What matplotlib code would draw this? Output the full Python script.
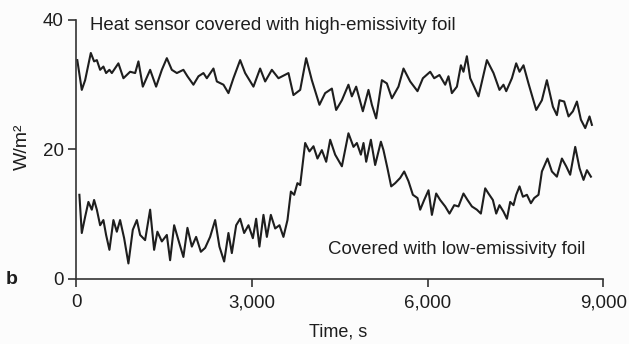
import matplotlib
matplotlib.use('Agg')
import matplotlib.pyplot as plt
import numpy as np

plt.rcParams['font.family'] = ['Liberation Sans', 'DejaVu Sans']

# Heat sensor covered with high-emissivity foil (time in s, flux in W/m^2)
t_high = [20, 97, 154, 251, 307, 354, 410, 466, 512, 569, 610, 722, 808, 922,
          1008, 1064, 1139, 1264, 1366, 1464, 1549, 1634, 1720, 1832, 1901,
          2003, 2089, 2174, 2232, 2345, 2403, 2516, 2601, 2686, 2801, 2886,
          3028, 3142, 3228, 3342, 3455, 3626, 3711, 3826, 3928, 4025, 4155,
          4252, 4367, 4440, 4538, 4650, 4708, 4782, 4896, 4992, 5050, 5123,
          5221, 5306, 5392, 5504, 5590, 5704, 5829, 5921, 6046, 6114, 6204,
          6302, 6358, 6416, 6502, 6570, 6614, 6672, 6729, 6871, 7014, 7127,
          7229, 7297, 7344, 7441, 7514, 7571, 7639, 7724, 7856, 7953, 8038,
          8141, 8209, 8254, 8334, 8408, 8483, 8551, 8619, 8693, 8766, 8807]
q_high = [33.8, 29.2, 30.7, 34.9, 33.6, 33.8, 32.3, 32.8, 31.8, 32.3, 31.8,
          33.3, 31.0, 32.0, 31.8, 33.6, 29.7, 32.3, 29.7, 32.3, 34.1, 32.3,
          31.8, 32.3, 31.3, 30.0, 31.3, 31.8, 31.0, 32.5, 30.5, 30.0, 28.7,
          31.0, 33.8, 31.8, 29.7, 32.5, 30.5, 32.3, 31.0, 31.8, 28.4, 29.2,
          34.1, 30.7, 26.9, 28.7, 29.4, 26.1, 27.6, 30.0, 28.2, 29.7, 25.9,
          29.2, 26.9, 24.8, 30.7, 30.2, 27.9, 29.7, 32.5, 30.5, 29.0, 31.0,
          32.0, 31.0, 31.5, 30.0, 31.3, 28.7, 29.7, 33.0, 32.0, 34.4, 31.0,
          28.2, 33.8, 31.8, 29.2, 30.0, 29.0, 31.0, 33.3, 32.0, 33.0, 30.2,
          26.1, 27.6, 30.7, 26.6, 25.3, 27.6, 27.4, 25.1, 25.9, 27.4, 24.6,
          23.3, 25.1, 23.8]

# Covered with low-emissivity foil
t_low = [56, 97, 154, 210, 268, 307, 354, 410, 466, 512, 569, 637, 695, 751,
         820, 893, 968, 1037, 1093, 1178, 1264, 1332, 1388, 1464, 1549, 1605,
         1674, 1747, 1832, 1901, 1976, 2049, 2130, 2203, 2288, 2374, 2447,
         2528, 2601, 2659, 2733, 2801, 2869, 2943, 3018, 3074, 3130, 3199,
         3257, 3325, 3399, 3472, 3540, 3609, 3667, 3723, 3779, 3826, 3911,
         3984, 4053, 4121, 4196, 4270, 4338, 4423, 4538, 4650, 4736, 4794,
         4862, 4907, 4953, 5033, 5106, 5204, 5248, 5316, 5380, 5448, 5533,
         5602, 5675, 5750, 5829, 5875, 5943, 6017, 6075, 6148, 6216, 6302,
         6375, 6456, 6529, 6614, 6683, 6758, 6843, 6911, 6985, 7041, 7116,
         7173, 7229, 7297, 7356, 7412, 7468, 7514, 7571, 7629, 7697, 7765,
         7822, 7895, 7953, 8049, 8124, 8209, 8295, 8368, 8436, 8522, 8596,
         8664, 8722, 8790]
q_low = [13.0, 7.1, 9.6, 11.9, 10.7, 12.2, 10.7, 8.3, 9.1, 6.8, 4.5, 9.1,
         7.3, 9.1, 6.3, 2.4, 7.6, 9.1, 6.8, 6.0, 10.7, 4.5, 7.3, 5.8, 6.8,
         2.9, 8.3, 6.0, 3.4, 7.9, 5.0, 6.5, 4.2, 4.8, 6.5, 9.1, 5.0, 2.7,
         7.1, 4.0, 8.3, 9.3, 7.1, 8.3, 6.3, 9.3, 5.0, 9.9, 6.5, 9.9, 7.8,
         8.3, 6.5, 9.1, 13.5, 13.0, 14.8, 14.5, 21.0, 19.7, 20.5, 18.6, 19.9,
         18.1, 21.5, 19.2, 17.4, 22.5, 20.4, 21.0, 19.2, 21.0, 18.1, 21.5,
         17.6, 21.2, 19.9, 17.1, 14.3, 14.8, 15.6, 16.6, 15.1, 13.0, 12.5,
         10.7, 12.2, 13.7, 9.9, 13.2, 12.2, 11.2, 10.1, 11.4, 11.2, 13.2,
         12.2, 11.2, 10.7, 10.1, 14.0, 13.2, 12.2, 10.1, 11.4, 10.4, 9.3,
         11.9, 11.4, 13.0, 14.3, 12.7, 13.0, 11.7, 12.5, 13.0, 16.6, 18.6,
         16.6, 15.8, 18.6, 17.4, 16.1, 20.4, 17.1, 15.3, 16.8, 15.8]

x_ticks = [0, 3000, 6000, 9000]
x_ticklabels = ['0', '3,000', '6,000', '9,000']
y_ticks = [0, 20, 40]

INK = '#1e1e1e'

fig = plt.figure(figsize=(6.29, 3.44), dpi=100, facecolor='#fcfcfc')
ax = fig.add_axes([0.121, 0.189, 0.838, 0.753])
ax.set_facecolor('#fcfcfc')

ax.plot(t_high, q_high, color=INK, lw=1.5)
ax.plot(t_low, q_low, color=INK, lw=1.5)

ax.set_xlim(0, 9000)
ax.set_ylim(0, 40)
for side in ('top', 'right'):
    ax.spines[side].set_visible(False)
for side in ('left', 'bottom'):
    ax.spines[side].set_color('#333333')
    ax.spines[side].set_linewidth(1.2)

ax.set_xticks(x_ticks)
ax.set_xticklabels(x_ticklabels)
ax.set_yticks(y_ticks)
ax.tick_params(axis='both', direction='out', length=6, width=1.2,
               color='#333333', labelsize=13.5, labelcolor=INK)
ax.tick_params(axis='x', pad=5)
ax.tick_params(axis='y', pad=3)

ax.text(240, 39.1, 'Heat sensor covered with high-emissivity foil',
        fontsize=13.4, color=INK, va='center', ha='left')
ax.text(4300, 4.5, 'Covered with low-emissivity foil',
        fontsize=13.4, color=INK, va='center', ha='left')

fig.text(22 / 629, 1 - 147 / 344, 'W/m²', rotation=90, fontsize=14,
         color=INK, ha='center', va='center')
fig.text(338 / 629, 1 - 332 / 344, 'Time, s', fontsize=13, color=INK,
         ha='center', va='center')
fig.text(12 / 629, 1 - 279 / 344, 'b', fontsize=14, fontweight='bold',
         color=INK, ha='center', va='center')

fig.savefig('out.png', dpi=100, facecolor=fig.get_facecolor())
